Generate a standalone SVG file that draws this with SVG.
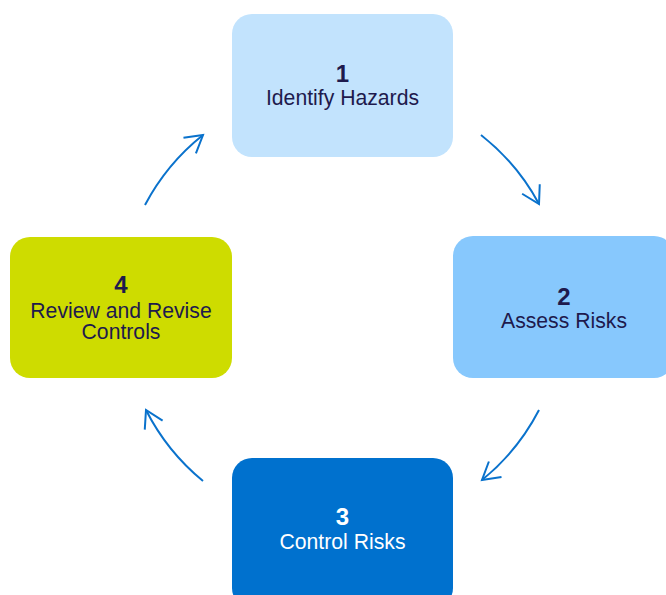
<svg xmlns="http://www.w3.org/2000/svg" width="666" height="595" viewBox="0 0 666 595">
  <style>
    .num { font-family: "Liberation Sans", Arial, sans-serif; font-weight: bold; font-size: 24px; fill: #1E1A4D; text-anchor: middle; }
    .lbl { font-family: "Liberation Sans", Arial, sans-serif; font-size: 21.2px; fill: #1E1A4D; text-anchor: middle; }
    .light { fill: #FFFFFF; }
    .conn { fill: none; stroke: #0A72CC; stroke-width: 2; }
  </style>
  <defs>
    <marker id="arrow" markerUnits="userSpaceOnUse" markerWidth="24" markerHeight="24" viewBox="-20 -12 24 24" refX="0" refY="0" orient="auto">
      <path d="M-17,-10 L0,0 L-17,10" fill="none" stroke="#0A72CC" stroke-width="2"/>
    </marker>
  </defs>
  <rect width="666" height="595" fill="#FFFFFF"/>
  <g id="node1">
    <rect x="232" y="14" width="221" height="143" rx="20" fill="#C2E3FD"/>
    <text class="num" x="342.5" y="82">1</text>
    <text class="lbl" x="342.5" y="105">Identify Hazards</text>
  </g>
  <g id="node2">
    <rect x="453" y="236" width="221" height="142" rx="20" fill="#87C8FD"/>
    <text class="num" x="564" y="305">2</text>
    <text class="lbl" x="564" y="328">Assess Risks</text>
  </g>
  <g id="node3">
    <rect x="232" y="458" width="221" height="150" rx="20" fill="#0071CE"/>
    <text class="num light" x="342.5" y="525">3</text>
    <text class="lbl light" x="342.5" y="549">Control Risks</text>
  </g>
  <g id="node4">
    <rect x="10" y="237" width="222" height="141" rx="20" fill="#CEDC00"/>
    <text class="num" x="121" y="293">4</text>
    <text class="lbl" x="121" y="318">Review and Revise</text>
    <text class="lbl" x="121" y="339">Controls</text>
  </g>
  <g id="connectors">
    <path class="conn" d="M145,205 A221,221 0 0 1 203,135" marker-end="url(#arrow)"/>
    <path class="conn" d="M481,135 A221,221 0 0 1 539,204" marker-end="url(#arrow)"/>
    <path class="conn" d="M539,410 A221,221 0 0 1 482,480" marker-end="url(#arrow)"/>
    <path class="conn" d="M203,481 A221,221 0 0 1 146,410" marker-end="url(#arrow)"/>
  </g>
</svg>
